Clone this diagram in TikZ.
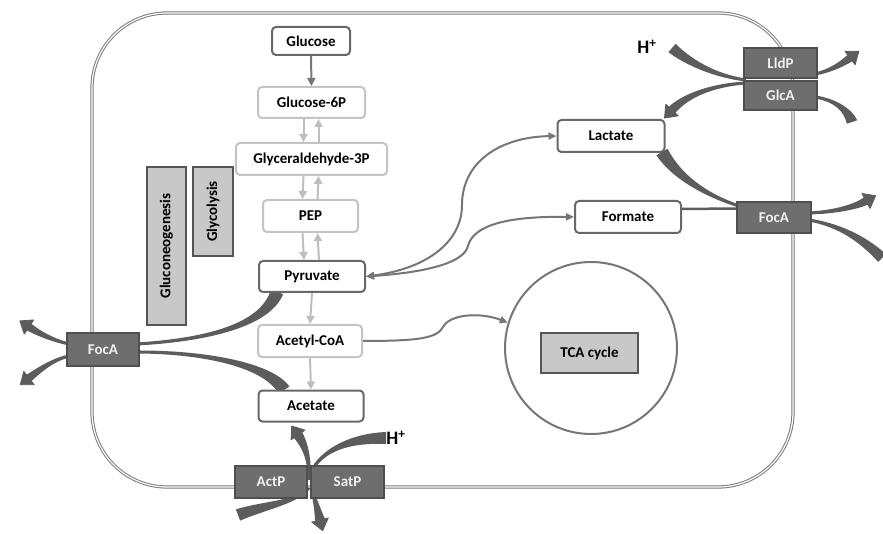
\documentclass[tikz,border=0pt]{standalone}
\usepackage{fontspec}
\setmainfont{Carlito}
\usetikzlibrary{arrows.meta,calc}

\definecolor{cellline}{HTML}{7A7A7A}
\definecolor{darkedge}{HTML}{686868}
\definecolor{paleedge}{HTML}{C4C4C4}
\definecolor{protfill}{HTML}{6E6E6E}
\definecolor{protedge}{HTML}{4F4F4F}
\definecolor{protext}{HTML}{F0F0F0}
\definecolor{labelfill}{HTML}{C8C8C8}
\definecolor{labeledge}{HTML}{555555}
\definecolor{flowline}{HTML}{767676}
\definecolor{paleflow}{HTML}{BEBEBE}
\definecolor{porter}{HTML}{5C5C5C}

% tapered transport band: narrow end #1, controls #2 #3, wide end #4,
% half width at the wide end #5, half width at the narrow end #6
\newcommand{\taper}[6]{%
  \fill[porter]
    ($(#1)!#6pt!-90:(#2)$)
      .. controls ($(#2)!#6*1.2pt!90:(#1)$) and ($(#3)!#5*0.75pt!-90:(#4)$)
      .. ($(#4)!#5pt!90:(#3)$)
    -- ($(#4)!#5pt!-90:(#3)$)
      .. controls ($(#3)!#5*0.75pt!90:(#4)$) and ($(#2)!#6*1.2pt!-90:(#1)$)
      .. ($(#1)!#6pt!90:(#2)$) -- cycle;}
% arrow head at #2, pointing away from #1, half width #3, length #4
\newcommand{\tiphead}[4]{%
  \filldraw[porter, line width=0.8pt, line join=round]
    ($(#2)!#3pt!90:(#1)$) -- ($(#2)!-#4pt!(#1)$) -- ($(#2)!#3pt!-90:(#1)$) -- cycle;}

\begin{document}
\begin{tikzpicture}[x=1pt,y=-1pt,
  font=\bfseries\fontsize{15}{18}\selectfont,
  metab/.style={draw=darkedge, line width=2pt, rounded corners=4pt, fill=white,
    text=black, inner sep=0pt},
  palemetab/.style={metab, draw=paleedge},
  transporter/.style={draw=protedge, fill=protfill, line width=1.5pt,
    text=protext, inner sep=0pt},
  pathlabel/.style={draw=labeledge, fill=labelfill, line width=1.5pt,
    text=black, inner sep=0pt},
  flow/.style={draw=flowline, line width=2pt, -{Triangle[length=8pt,width=7pt]}},
  bothflow/.style={flow, {Triangle[length=8pt,width=7pt]}-{Triangle[length=8pt,width=7pt]}},
  paleflowarr/.style={draw=paleflow, line width=2pt, -{Triangle[length=8pt,width=8pt]}},
  darkflowarr/.style={draw=flowline, line width=2pt, -{Triangle[length=8pt,width=8pt]}}
]
\useasboundingbox (0,0) rectangle (883,534);

% cell envelope
\draw[draw=cellline, line width=1pt, double=white, double distance=1.2pt,
  rounded corners=75pt] (92,13) rectangle (793,487);

% TCA compartment
\node[circle, draw=flowline, line width=2pt, minimum size=172pt, inner sep=0pt]
  (tcaring) at (591,348) {};

% transport bands (drawn below the boxes)
% LldP / GlcA
\taper{746,80}{715,76}{688,62}{672,48}{5.5}{1.5}
\taper{815,74}{830,71}{842,64}{850,58}{4}{1.5}
\tiphead{842,64}{850,58}{8.5}{11}
\taper{746,83}{712,85}{685,96}{672,110}{4.5}{1.5}
\tiphead{685,96}{672,110}{8.5}{11}
\taper{815,97}{835,100}{848,110}{852,122}{5.5}{1.5}
% lactate to FocA
\taper{739,206}{705,195}{676,176}{662,152}{6.5}{1.5}
% FocA right side
\taper{809,213}{835,212}{855,207}{866,201}{4}{1.5}
\tiphead{855,207}{866,201}{8.5}{11}
\taper{809,220}{838,225}{862,238}{882,258}{5.5}{1.5}
% FocA left side
\taper{137,344}{205,340}{265,326}{277,292}{6.5}{1.5}
\taper{137,352}{205,352}{268,365}{284,390}{6.5}{1.5}
\taper{69,344}{52,340}{38,333}{29,327}{4}{1.5}
\tiphead{38,333}{29,327}{8.5}{11}
\taper{69,356}{52,360}{38,371}{29,378}{4}{1.5}
\tiphead{38,371}{29,378}{8.5}{11}
% ActP / SatP
\taper{309,480}{310,460}{305,445}{298,435}{5}{1.5}
\tiphead{305,445}{298,435}{8.5}{11}
\taper{309,488}{295,503}{265,505}{238,515}{6}{1.5}
\taper{311,472}{322,450}{350,438}{386,438}{6}{1.5}
\taper{311,488}{316,502}{318,512}{320,520}{5}{1.5}
\tiphead{318,512}{320,520}{8.5}{11}

% metabolites
\node[metab, minimum width=78pt, minimum height=28pt] (glc) at (311,41) {Glucose};
\node[palemetab, minimum width=107pt, minimum height=31pt] (g6p) at (311.5,102.5) {Glucose-6P};
\node[palemetab, minimum width=151pt, minimum height=32pt] (ga3p) at (311.5,159) {Glyceraldehyde-3P};
\node[palemetab, minimum width=95pt, minimum height=32pt] (pep) at (310.5,216) {PEP};
\node[metab, minimum width=106pt, minimum height=31pt] (pyr) at (312,276.5) {Pyruvate};
\node[palemetab, minimum width=104pt, minimum height=32pt] (acoa) at (310,341) {Acetyl-CoA};
\node[metab, minimum width=105pt, minimum height=31pt] (ace) at (311,406) {Acetate};
\node[metab, minimum width=107pt, minimum height=32pt] (lac) at (611,136) {Lactate};
\node[metab, minimum width=106pt, minimum height=32pt] (form) at (628,217) {Formate};

% transporters
\node[transporter, minimum width=73pt, minimum height=30pt] (lldp) at (780.5,63) {LldP};
\node[transporter, minimum width=73pt, minimum height=29pt] (glca) at (780.5,95.5) {GlcA};
\node[transporter, minimum width=74pt, minimum height=31pt] (focr) at (774,217.5) {FocA};
\node[transporter, minimum width=72pt, minimum height=33pt] (focl) at (103,349.5) {FocA};
\node[transporter, minimum width=72pt, minimum height=32pt] (actp) at (271,482) {ActP};
\node[transporter, minimum width=73pt, minimum height=32pt] (satp) at (347.5,482) {SatP};

% pathway labels
\node[pathlabel, rotate=90, minimum width=158pt, minimum height=39pt] (gneo) at (166.5,246) {Gluconeogenesis};
\node[pathlabel, rotate=90, minimum width=89pt, minimum height=40pt] (glyc) at (213,211.5) {Glycolysis};
\node[pathlabel, minimum width=97pt, minimum height=40pt] (tca) at (589.5,353) {TCA cycle};

% protons
\node[font=\bfseries\fontsize{19}{21}\selectfont] (hout) at (647,47) {H\textsuperscript{+}};
\node[font=\bfseries\fontsize{19}{21}\selectfont] (hin) at (396,438) {H\textsuperscript{+}};

% glycolysis / gluconeogenesis steps
\draw[darkflowarr] (glc.south) -- (g6p.north);
\draw[paleflowarr] ([xshift=-8pt]g6p.south) -- ([xshift=-8pt]ga3p.north);
\draw[paleflowarr] ([xshift=7pt]ga3p.north) -- ([xshift=7pt]g6p.south);
\draw[paleflowarr] ([xshift=-8pt]ga3p.south) -- ([xshift=-8pt]pep.north);
\draw[paleflowarr] ([xshift=7pt]pep.north) -- ([xshift=7pt]ga3p.south);
\draw[paleflowarr] ([xshift=-8pt]pep.south) -- ([xshift=-8pt]pyr.north);
\draw[paleflowarr] ([xshift=7pt]pyr.north) -- ([xshift=7pt]pep.south);
\draw[paleflowarr] (pyr.south) -- (acoa.north);
\draw[paleflowarr] (acoa.south) -- (ace.north);

% fermentation branches
\draw[bothflow] (pyr.east) .. controls (430,268) and (462,240) .. (462,205)
  .. controls (462,162) and (500,137) .. (lac.west);
\draw[bothflow] (pyr.east) .. controls (430,272) and (464,262) .. (468,246)
  .. controls (473,226) and (505,216) .. (form.west);
\draw[flow] (acoa.east) .. controls (420,341) and (437,338) .. (443,327)
  .. controls (450,314) and (480,312) .. (tcaring.163);

% formate export
\draw[draw=porter, line width=2.5pt] ([yshift=8pt]form.east) -- ([yshift=9pt]focr.west);
\end{tikzpicture}
\end{document}
